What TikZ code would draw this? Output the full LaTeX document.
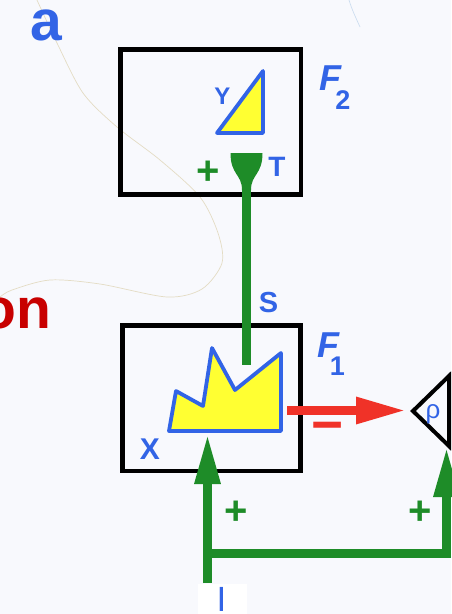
\documentclass[tikz,border=0pt]{standalone}
\usepackage{fontspec}
\setmainfont{Liberation Sans}
\usetikzlibrary{arrows.meta}
\definecolor{bg}{RGB}{248,249,253}
\definecolor{myblue}{RGB}{50,100,230}
\definecolor{mygreen}{RGB}{30,140,40}
\definecolor{myred}{RGB}{240,50,40}
\definecolor{darkred}{RGB}{200,0,0}
\definecolor{myyellow}{RGB}{255,255,50}
\definecolor{faint}{RGB}{228,220,196}
\newcommand\myfs[1]{\fontsize{#1}{#1}\selectfont}
\begin{document}
\begin{tikzpicture}[x=1pt,y=-1pt,
  every node/.style={inner sep=0pt,outer sep=0pt},
  box/.style={draw=black,line width=4.5pt,rectangle},
  shapeline/.style={draw=myblue,fill=myyellow,line width=3.8pt,line join=round},
  bluet/.style={text=myblue},
  grnline/.style={draw=mygreen,line width=9pt},
  grnarrow/.style={grnline,-{Triangle[length=50pt,width=24pt]}},
  redarrow/.style={draw=myred,line width=9pt,-{Triangle[length=50pt,width=25pt]}},
  plus/.style={text=mygreen,font=\bfseries\myfs{40}}
]
\fill[bg] (0,0) rectangle (451,614);
\useasboundingbox (0,0) rectangle (451,614);

% faint background strokes
\draw[faint,line width=0.7pt] plot[smooth] coordinates {(37,0) (57,43) (83,93) (117,127) (160,160) (200,197) (218,233) (222,263) (202,289) (167,297) (100,284) (50,280) (12,290) (0,297)};
\draw[color={rgb,255:red,205;green,222;blue,240},line width=0.7pt] (349,0) .. controls (352,10) and (356,18) .. (360,27);

% white patch at bottom
\fill[white] (198,584) rectangle (247,614);

% boxes
\node[box,minimum width=180.5pt,minimum height=145pt] (F2box) at (210.75,122) {};
\node[box,minimum width=178pt,minimum height=145.5pt] (F1box) at (211.5,398.25) {};

% F2 contents
\draw[shapeline] (217,133) -- (263,71) -- (263,133) -- cycle;
\fill[mygreen] (230.5,153) -- (262.5,153) .. controls (262.5,175) and (251,174) .. (251,190) -- (242,190) .. controls (242,174) and (230.5,175) .. (230.5,153) -- cycle;
\coordinate (stemtop) at (246.5,185);
\coordinate (stemend) at (246.5,365);
\draw[grnline] (stemtop) -- (stemend);

% F1 contents
\draw[shapeline] (169,431) -- (176,391) -- (203,406) -- (212,348) -- (235,390) -- (281,353) -- (281,431) -- cycle;
\coordinate (shapebot) at (207.5,434);
\coordinate (arrstart) at (287,410.5);
\coordinate (arrend) at (406,410.5);

% rho triangle
\draw[black,line width=4pt,line join=miter] (449,376) -- (413,411) -- (449,446) -- cycle;
\coordinate (rhobot) at (446.5,447);
\node[bluet,font=\myfs{26}] (rho) at (433,414) {ρ};

% connectors
\draw[redarrow] (arrstart) -- (arrend);
\coordinate (gstart) at (207.5,583);
\coordinate (junc) at (207.5,553.5);
\coordinate (corner) at (446.5,553.5);
\draw[grnarrow] (gstart) -- (shapebot);
\draw[grnarrow,line join=miter] (junc) -- (corner) -- (rhobot);

% labels
\node[bluet,font=\bfseries\myfs{57}] (a) at (46.5,25.5) {a};
\node[text=darkred,font=\bfseries\myfs{57},anchor=east] (on) at (51,313) {on};
\node[bluet,font=\bfseries\myfs{24}] (Y) at (222.5,96) {Y};
\node[bluet,font=\bfseries\myfs{28}] (T) at (277,167) {T};
\node[plus] (p1) at (208.5,172.5) {+};
\node[bluet,font=\bfseries\myfs{29}] (S) at (268.5,302.5) {S};
\node[bluet,font=\bfseries\itshape\myfs{36}] (F2) at (330,78.5) {F};
\node[bluet,font=\bfseries\myfs{27}] (F2s) at (343,100) {2};
\node[bluet,font=\bfseries\itshape\myfs{36}] (F1) at (328,345) {F};
\node[bluet,font=\bfseries\myfs{27}] (F1s) at (337.5,366) {1};
\node[bluet,font=\bfseries\myfs{30}] (X) at (150,449) {X};
\node[text=myred,font=\bfseries\myfs{55}] (minus) at (327.5,433) {−};
\node[plus] (p2) at (236,512.5) {+};
\node[plus] (p3) at (420,512.5) {+};
\node[bluet,font=\myfs{35}] (I) at (221.5,599) {I};
\end{tikzpicture}
\end{document}
